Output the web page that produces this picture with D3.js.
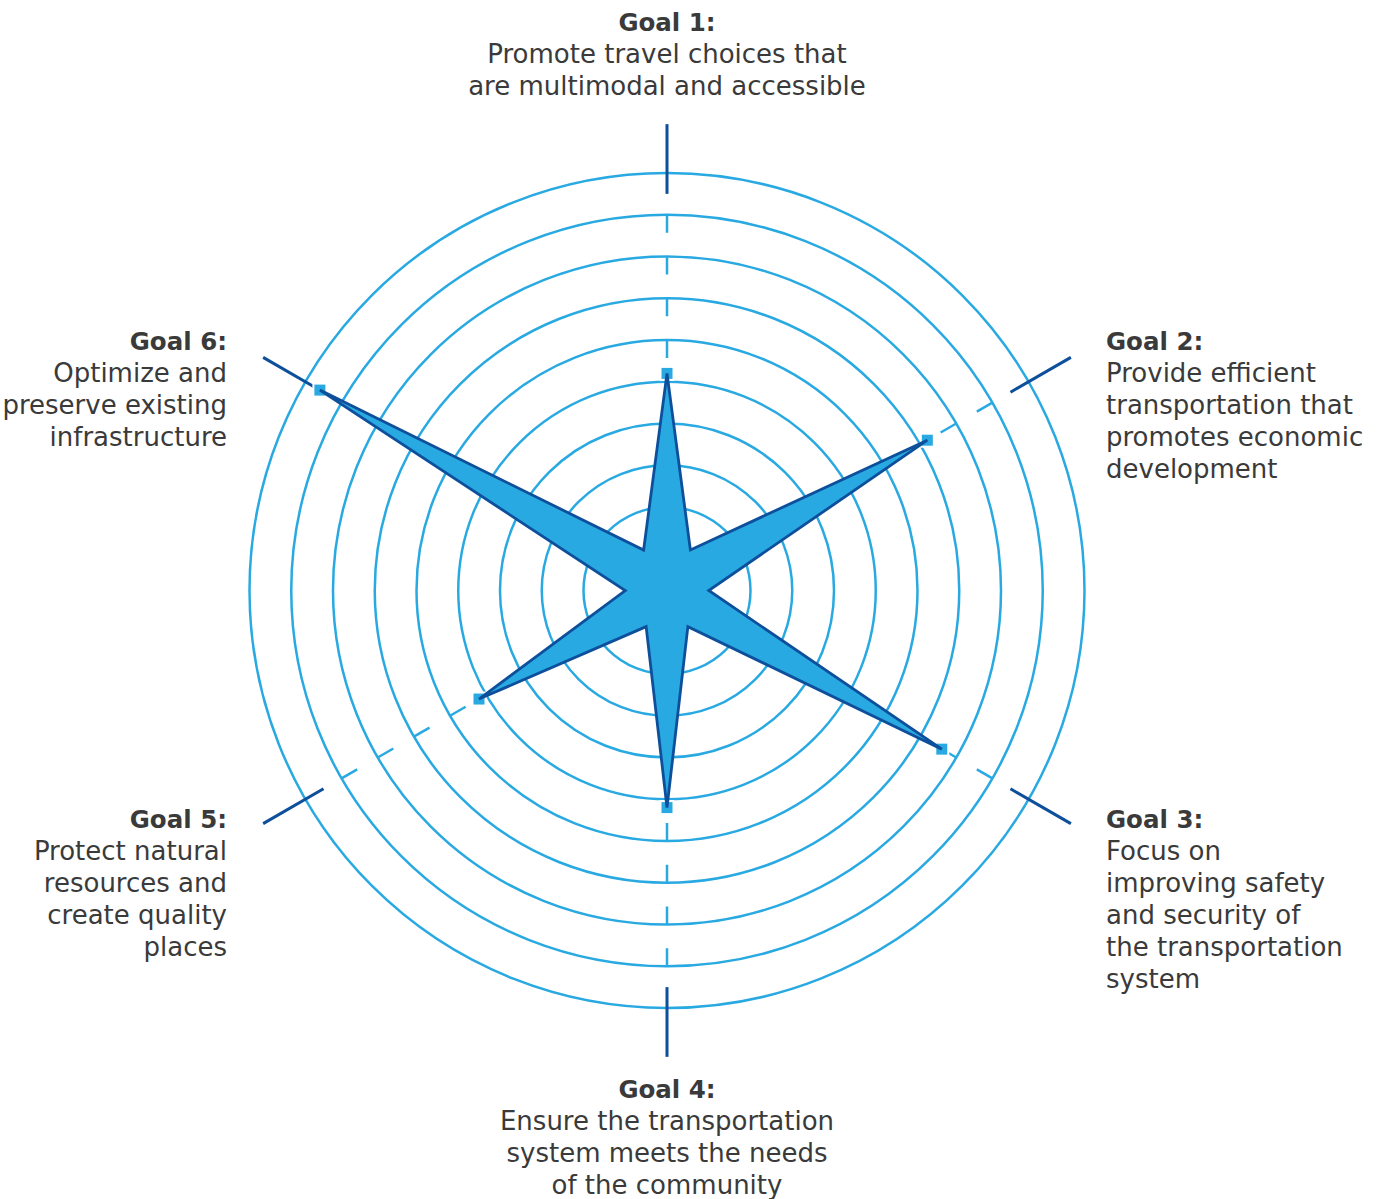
<!DOCTYPE html>
<html>
<head>
<meta charset="utf-8">
<script src="https://cdn.jsdelivr.net/npm/d3@7"></script>
<style>
  html, body { margin: 0; padding: 0; background: #ffffff; }
</style>
</head>
<body>
<div id="canvas"></div>
<script>
// Dimension and color constants.
const WIDTH = 1388;
const HEIGHT = 1199;
const CX = 667;
const CY = 590.5;
const OUTER_RADIUS = 417.5;

const LIGHT_BLUE = "#29a9e1";
const DARK_BLUE = "#0d4f9b";
const TEXT_COLOR = "#3a3a3a";
const FONT = "'DejaVu Sans', sans-serif";

// Data: one value per goal (0 - 10 scale) and the small values between the goals.
const goals = ["Goal 1:", "Goal 2:", "Goal 3:", "Goal 4:", "Goal 5:", "Goal 6:"];
const goalValues = [5.2, 7.2, 7.6, 5.2, 5.2, 9.6];
const betweenValues = [1.12, 1.0, 1.0, 1.0, 1.0, 1.12];
const ringLevels = [1, 2, 3, 4, 5, 6, 7, 8, 9, 10];

const goalTexts = [
    ["Promote travel choices that", "are multimodal and accessible"],
    ["Provide efficient", "transportation that", "promotes economic", "development"],
    ["Focus on", "improving safety", "and security of", "the transportation", "system"],
    ["Ensure the transportation", "system meets the needs", "of the community"],
    ["Protect natural", "resources and", "create quality", "places"],
    ["Optimize and", "preserve existing", "infrastructure"]
];

// Label anchor positions (first baseline) and alignment.
const labelLayout = [
    { x: 667, y: 31, anchor: "middle" },
    { x: 1106, y: 350, anchor: "start" },
    { x: 1106, y: 828, anchor: "start" },
    { x: 667, y: 1098, anchor: "middle" },
    { x: 227, y: 828, anchor: "end" },
    { x: 227, y: 350, anchor: "end" }
];
const LINE_HEIGHT = 32;

const svg = d3.select("#canvas")
                .append("svg")
                .attr("width", WIDTH)
                .attr("height", HEIGHT);

const rScale = d3.scaleLinear()
                    .domain([0, 10])
                    .range([0, OUTER_RADIUS]);

// Angle of goal i, measured from the top, clockwise.
const goalAngle = i => i * Math.PI / 3;
const point = (angle, r) => [CX + r * Math.sin(angle), CY - r * Math.cos(angle)];

const chart = svg.append("g");

// Rings.
chart.selectAll(".ring")
    .data(ringLevels)
    .join("circle")
    .attr("class", "ring")
    .attr("cx", CX)
    .attr("cy", CY)
    .attr("r", d => rScale(d))
    .attr("fill", "none")
    .attr("stroke", LIGHT_BLUE)
    .attr("stroke-width", 2.5);

// Small ticks hanging inward from each ring that lies beyond the goal's value.
const tickData = [];
goals.forEach((g, i) => {
    ringLevels.forEach(level => {
        if (level > goalValues[i] && level < 10) {
            tickData.push({ angle: goalAngle(i), level: level });
        }
    });
});

chart.selectAll(".tick")
    .data(tickData)
    .join("line")
    .attr("class", "tick")
    .attr("x1", d => point(d.angle, rScale(d.level))[0])
    .attr("y1", d => point(d.angle, rScale(d.level))[1])
    .attr("x2", d => point(d.angle, rScale(d.level) - 18)[0])
    .attr("y2", d => point(d.angle, rScale(d.level) - 18)[1])
    .attr("stroke", LIGHT_BLUE)
    .attr("stroke-width", 2.5);

// Dark axis ticks crossing the outer ring.
chart.selectAll(".axisTick")
    .data(goals)
    .join("line")
    .attr("class", "axisTick")
    .attr("x1", (d, i) => point(goalAngle(i), rScale(9.5))[0])
    .attr("y1", (d, i) => point(goalAngle(i), rScale(9.5))[1])
    .attr("x2", (d, i) => point(goalAngle(i), rScale(11.17))[0])
    .attr("y2", (d, i) => point(goalAngle(i), rScale(11.17))[1])
    .attr("stroke", DARK_BLUE)
    .attr("stroke-width", 3);

// Markers at each goal value.
chart.selectAll(".marker")
    .data(goalValues)
    .join("rect")
    .attr("class", "marker")
    .attr("x", (d, i) => point(goalAngle(i), rScale(d))[0] - 6.5)
    .attr("y", (d, i) => point(goalAngle(i), rScale(d))[1] - 6.5)
    .attr("width", 13)
    .attr("height", 13)
    .attr("fill", LIGHT_BLUE)
    .attr("stroke", "#ffffff")
    .attr("stroke-width", 2);

// The star shape: goal values alternating with the values between the goals.
const starPoints = [];
goalValues.forEach((v, i) => {
    starPoints.push(point(goalAngle(i), rScale(v)));
    starPoints.push(point(goalAngle(i) + Math.PI / 6, rScale(betweenValues[i])));
});

chart.append("path")
    .datum(starPoints)
    .attr("d", d3.line().curve(d3.curveLinearClosed))
    .attr("fill", LIGHT_BLUE)
    .attr("stroke", DARK_BLUE)
    .attr("stroke-width", 2.8)
    .attr("stroke-linejoin", "miter");

// Goal labels.
goals.forEach((g, i) => {
    const layout = labelLayout[i];
    const text = svg.append("text")
                    .attr("x", layout.x)
                    .attr("y", layout.y)
                    .attr("text-anchor", layout.anchor)
                    .attr("fill", TEXT_COLOR)
                    .attr("font-family", FONT)
                    .attr("font-size", 26);

    text.append("tspan")
        .attr("x", layout.x)
        .attr("font-weight", "bold")
        .attr("font-size", 24.5)
        .text(g);

    goalTexts[i].forEach(line => {
        text.append("tspan")
            .attr("x", layout.x)
            .attr("dy", LINE_HEIGHT)
            .text(line);
    });
});
</script>
</body>
</html>
